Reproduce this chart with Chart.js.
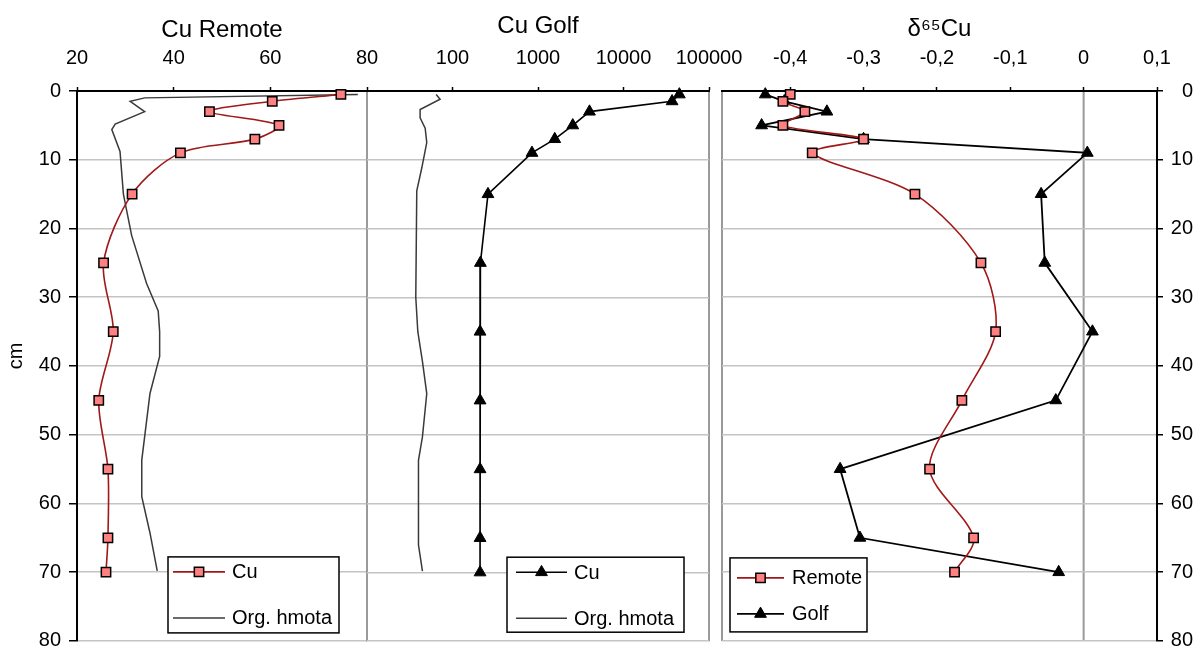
<!DOCTYPE html>
<html>
<head>
<meta charset="utf-8">
<title>Cu depth profiles</title>
<script src="https://cdn.jsdelivr.net/npm/chart.js@4.4.0/dist/chart.umd.min.js"></script>
<style>
  html, body { margin: 0; padding: 0; background: #fff; }
  #wrap { position: relative; width: 1196px; height: 649px; overflow: hidden; }
  #wrap canvas { position: absolute; left: 0; top: 0; }
</style>
</head>
<body>
<div id="wrap">
  <canvas id="remote" width="1196" height="649"></canvas>
  <canvas id="golf" width="1196" height="649"></canvas>
  <canvas id="delta" width="1196" height="649"></canvas>
</div>
<script>
// ---- data ---------------------------------------------------------------
// sample mid-depths (cm)
const depthCm   = [0.5, 1.5, 3, 5, 7, 9, 15, 25, 35, 45, 55, 65, 70];
// Cu, remote profile
const cuRemote  = [74.6, 60.4, 47.4, 61.8, 56.8, 41.4, 31.4, 25.5, 27.5, 24.5, 26.4, 26.4, 26.0];
// Cu, golf-course profile (log axis)
const cuGolf    = [45000, 37000, 4000, 2550, 1570, 850, 260, 212, 210, 210, 210, 210, 210];
// delta-65 Cu isotope ratios
const d65Remote = [-0.40, -0.41, -0.38, -0.41, -0.30, -0.37, -0.23, -0.14, -0.12, -0.166, -0.21, -0.15, -0.176];
const d65Golf   = [-0.434, -0.408, -0.35, -0.439, -0.30, 0.005, -0.058, -0.053, 0.012, -0.038, -0.332, -0.305, -0.034];
// organic matter trace, remote (in the Cu Remote axis units)
const orgRemoteDepth = [0.5, 1.0, 1.5, 3, 4.8, 5.6, 8.8, 15, 21, 28, 32, 35, 38.6, 44, 53.7, 59, 64.3, 69.8];
const orgRemote      = [78.1, 34.0, 31.0, 34.0, 27.9, 27.2, 28.9, 29.6, 31.3, 34.4, 36.8, 37.1, 37.1, 35.1, 33.4, 33.4, 35.1, 36.6];
// organic matter trace, golf (in the Cu Golf axis units)
const orgGolfDepth = [0.5, 1.2, 2.7, 3.9, 5.4, 7.5, 11.2, 14.5, 30, 35, 39.3, 44, 50.3, 53.7, 66, 69.8];
const orgGolf      = [64.4, 71.6, 41.8, 41.8, 47.9, 50, 43.7, 38.2, 37.2, 39.3, 44.5, 50, 44.5, 40, 40, 44.5];
// axis ticks
const depthTicks  = [0, 10, 20, 30, 40, 50, 60, 70, 80];
const remoteTicks = [20, 40, 60, 80];
const golfTicks   = [100, 1000, 10000, 100000];
const deltaTicks  = [-0.4, -0.3, -0.2, -0.1, 0, 0.1];

// ---- styling --------------------------------------------------------------
const FONT = "'Liberation Sans', Arial, sans-serif";
Chart.defaults.font.family = FONT;
Chart.defaults.color = '#000';
Chart.defaults.animation = false;

const RED = '#a01818';
const ORG = '#3a3a3a';
const GRID = '#c4c4c4';
const FRAME = '#9a9a9a';
const TOP_H = 91;      // height of the top axis band
const pts = (xs, ys) => xs.map((v, i) => ({ x: v, y: ys[i] }));

function noPad(s) { s.paddingLeft = 0; s.paddingRight = 0; s.paddingTop = 0; s.paddingBottom = 0; }

function topAxis(extra) {
  return Object.assign({
    position: 'top',
    grid: { drawOnChartArea: false, tickLength: 4, tickColor: '#000', tickWidth: 1.5 },
    border: { color: '#000', width: 2 },
    ticks: { font: { size: 20 }, padding: 17, color: '#000', maxRotation: 0, autoSkip: false },
    afterFit: s => { s.height = TOP_H; noPad(s); }
  }, extra);
}

function depthAxis(extra) {
  return Object.assign({
    type: 'linear', reverse: true, min: 0, max: 80,
    afterBuildTicks: s => { s.ticks = depthTicks.map(v => ({ value: v })); },
    grid: { color: GRID, lineWidth: 1.5, tickColor: '#000', tickWidth: 1.5, tickLength: 8 },
    border: { color: '#000', width: 2 },
    ticks: { font: { size: 20 }, padding: 8, color: '#000' }
  }, extra);
}

// gray panel edges (and the zero line of the isotope panel)
const panelFrame = {
  id: 'panelFrame',
  beforeDraw(chart, args, opts) {
    const { ctx, chartArea: a } = chart;
    ctx.save();
    ctx.strokeStyle = FRAME;
    ctx.lineWidth = 2;
    const xs = [];
    if (opts.left) xs.push(a.left);
    if (opts.right) xs.push(a.right);
    if (opts.zeroAt !== undefined) xs.push(chart.scales.x.getPixelForValue(opts.zeroAt));
    xs.forEach(x => { ctx.beginPath(); ctx.moveTo(x, a.top); ctx.lineTo(x, a.bottom); ctx.stroke(); });
    ctx.restore();
  }
};

// rotated depth-axis caption, set a little above the middle of the axis
const depthCaption = {
  id: 'depthCaption',
  afterDraw(chart, args, o) {
    if (!o.text) return;
    const { ctx } = chart;
    ctx.save();
    ctx.translate(o.x, o.y);
    ctx.rotate(-Math.PI / 2);
    ctx.fillStyle = '#000';
    ctx.font = '20px ' + FONT;
    ctx.textAlign = 'center';
    ctx.textBaseline = 'middle';
    ctx.fillText(o.text, 0, 0);
    ctx.restore();
  }
};

// boxed legend placed inside the plot area
const boxLegend = {
  id: 'boxLegend',
  afterDraw(chart, args, o) {
    const { ctx, chartArea: a } = chart;
    const bx = a.left + o.dx, by = a.bottom - o.dyFromBottom;
    ctx.save();
    ctx.fillStyle = '#fff';
    ctx.fillRect(bx, by, o.w, o.h);
    ctx.strokeStyle = '#000';
    ctx.lineWidth = 1.5;
    ctx.strokeRect(bx, by, o.w, o.h);
    o.rows.forEach((rowY, i) => {
      const ds = chart.data.datasets[i];
      const y = by + rowY;
      ctx.strokeStyle = ds.borderColor;
      ctx.lineWidth = ds.borderWidth;
      ctx.beginPath();
      ctx.moveTo(bx + o.lineX0, y);
      ctx.lineTo(bx + o.lineX1, y);
      ctx.stroke();
      if (ds.pointRadius > 0) {
        ctx.fillStyle = ds.pointBackgroundColor;
        ctx.strokeStyle = ds.pointBorderColor;
        ctx.lineWidth = ds.pointBorderWidth;
        Chart.helpers.drawPoint(ctx, {
          pointStyle: ds.pointStyle, rotation: 0,
          radius: ds.pointRadius, borderWidth: ds.pointBorderWidth
        }, bx + (o.lineX0 + o.lineX1) / 2, y);
      }
      ctx.fillStyle = '#000';
      ctx.font = '20px ' + FONT;
      ctx.textBaseline = 'middle';
      ctx.textAlign = 'left';
      ctx.fillText(ds.label, bx + o.textX, y + 1);
    });
    ctx.restore();
  }
};

const squareMarks = {
  pointStyle: 'rect', pointRadius: 6.6, pointBackgroundColor: '#ff8080',
  pointBorderColor: '#000', pointBorderWidth: 1.5
};
const triangleMarks = {
  pointStyle: 'triangle', pointRadius: 6.8, pointBackgroundColor: '#000',
  pointBorderColor: '#000', pointBorderWidth: 1
};

// ---- left panel: Cu Remote --------------------------------------------------
new Chart(document.getElementById('remote'), {
  type: 'line',
  data: {
    datasets: [
      Object.assign({ label: 'Cu', data: pts(cuRemote, depthCm), borderColor: RED, borderWidth: 1.6,
        tension: 0.3, clip: false }, squareMarks),
      { label: 'Org. hmota', data: pts(orgRemote, orgRemoteDepth), borderColor: ORG, borderWidth: 1.5,
        pointRadius: 0, tension: 0 }
    ]
  },
  options: {
    responsive: false, devicePixelRatio: 1,
    layout: { padding: { left: 0, right: 1196 - 367, top: 0, bottom: 4 } },
    plugins: {
      legend: { display: false }, tooltip: { enabled: false },
      panelFrame: { right: true },
      depthCaption: { text: 'cm', x: 16, y: 356 },
      boxLegend: { dx: 91, dyFromBottom: 84, w: 171, h: 76, rows: [15, 61], lineX0: 5, lineX1: 57, textX: 64 }
    },
    scales: {
      x: topAxis({
        type: 'linear', min: 20, max: 80,
        afterBuildTicks: s => { s.ticks = remoteTicks.map(v => ({ value: v })); },
        title: { display: true, text: 'Cu Remote', font: { size: 24 }, color: '#000', padding: { top: 16, bottom: 0 } }
      }),
      y: depthAxis({
        position: 'left',
        afterFit: s => { s.width = 77; noPad(s); }
      })
    }
  },
  plugins: [panelFrame, depthCaption, boxLegend]
});

// ---- middle panel: Cu Golf (log) --------------------------------------------
new Chart(document.getElementById('golf'), {
  type: 'line',
  data: {
    datasets: [
      Object.assign({ label: 'Cu', data: pts(cuGolf, depthCm), borderColor: '#000', borderWidth: 1.6,
        tension: 0, clip: false }, triangleMarks),
      { label: 'Org. hmota', data: pts(orgGolf, orgGolfDepth), borderColor: ORG, borderWidth: 1.5,
        pointRadius: 0, tension: 0 }
    ]
  },
  options: {
    responsive: false, devicePixelRatio: 1,
    layout: { padding: { left: 367, right: 1196 - 709, top: 0, bottom: 4 } },
    plugins: {
      legend: { display: false }, tooltip: { enabled: false },
      panelFrame: { left: true, right: true },
      boxLegend: { dx: 140, dyFromBottom: 84, w: 177, h: 75, rows: [15, 61], lineX0: 9, lineX1: 60, textX: 67 }
    },
    scales: {
      x: topAxis({
        type: 'logarithmic', min: 10, max: 100000,
        afterBuildTicks: s => { s.ticks = golfTicks.map(v => ({ value: v })); },
        ticks: { font: { size: 20 }, padding: 17, color: '#000', maxRotation: 0, autoSkip: false,
          callback: v => String(v) },
        title: { display: true, text: 'Cu Golf', font: { size: 24 }, color: '#000', padding: { top: 12, bottom: 0 } }
      }),
      y: depthAxis({
        position: 'left',
        grid: { color: GRID, lineWidth: 1.5, drawTicks: false },
        border: { display: false },
        ticks: { display: false },
        afterFit: s => { s.width = 0; noPad(s); }
      })
    }
  },
  plugins: [panelFrame, boxLegend]
});

// ---- right panel: delta 65 Cu -------------------------------------------------
new Chart(document.getElementById('delta'), {
  type: 'line',
  data: {
    datasets: [
      Object.assign({ label: 'Remote', data: pts(d65Remote, depthCm), borderColor: RED, borderWidth: 1.6,
        tension: 0.3, clip: false }, squareMarks),
      Object.assign({ label: 'Golf', data: pts(d65Golf, depthCm), borderColor: '#000', borderWidth: 1.8,
        tension: 0, clip: false }, triangleMarks)
    ]
  },
  options: {
    responsive: false, devicePixelRatio: 1,
    layout: { padding: { left: 722, right: 3, top: 0, bottom: 4 } },
    plugins: {
      legend: { display: false }, tooltip: { enabled: false },
      panelFrame: { left: true, zeroAt: 0 },
      boxLegend: { dx: 8, dyFromBottom: 83, w: 137, h: 74, rows: [20, 56], lineX0: 7, lineX1: 54, textX: 62 }
    },
    scales: {
      x: topAxis({
        type: 'linear', min: -0.493, max: 0.1,
        afterBuildTicks: s => { s.ticks = deltaTicks.map(v => ({ value: v })); },
        ticks: { font: { size: 20 }, padding: 17, color: '#000', maxRotation: 0, autoSkip: false,
          callback: v => (v === 0 ? '0' : v.toFixed(1).replace('.', ',')) },
        title: { display: true, text: 'δ⁶⁵Cu', font: { size: 24 }, color: '#000', padding: { top: 15, bottom: 0 } }
      }),
      y: depthAxis({
        position: 'right',
        grid: { color: GRID, lineWidth: 1.5, tickColor: '#000', tickWidth: 1.5, tickLength: 6 },
        ticks: { font: { size: 20 }, padding: 8, color: '#000', crossAlign: 'far' },
        afterFit: s => { s.width = 36; noPad(s); }
      })
    }
  },
  plugins: [panelFrame, boxLegend]
});
</script>
</body>
</html>
